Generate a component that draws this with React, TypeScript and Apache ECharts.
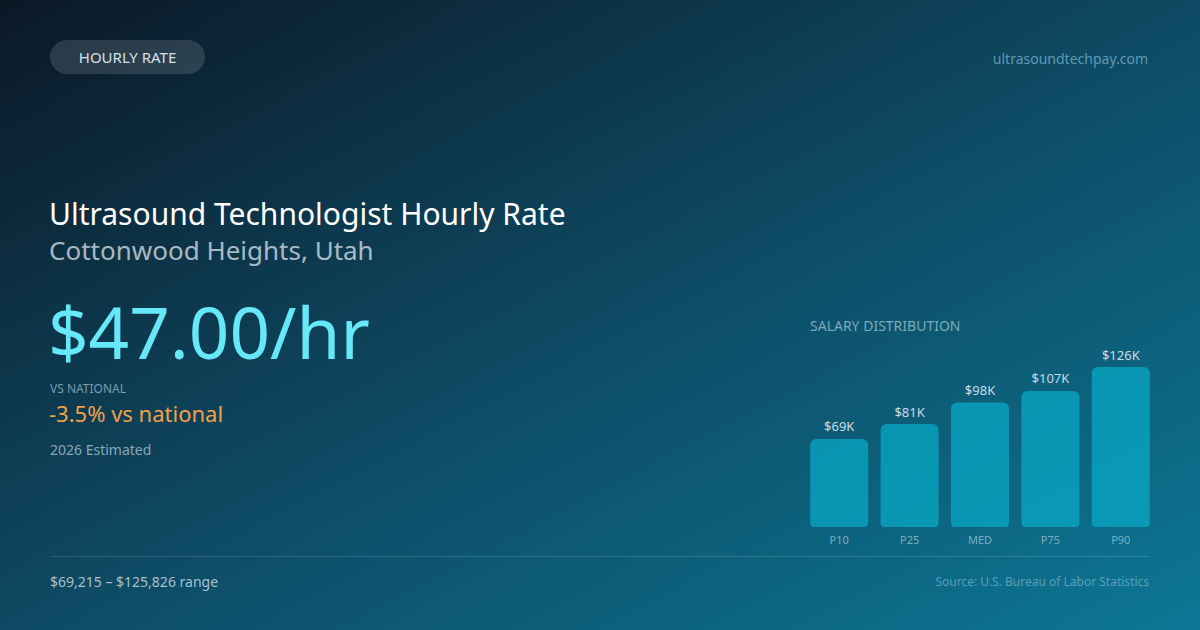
import React, { useEffect, useRef } from "react";
import * as echarts from "echarts";

const categories = ["P10", "P25", "MED", "P75", "P90"];
const salaries = [69215, 81000, 98000, 107000, 125826];
const rangeLow = 69215;
const rangeHigh = 125826;

const FONT = "'Noto Sans', 'Open Sans', sans-serif";

const fmtK = (v: number) => `$${Math.round(v / 1000)}K`;
const fmtFull = (v: number) => `$${v.toLocaleString("en-US")}`;

export default function App() {
  const ref = useRef<HTMLDivElement>(null);

  useEffect(() => {
    document.body.style.margin = "0";
    if (!ref.current) return;
    const chart = echarts.init(ref.current, undefined, { renderer: "svg" });

    chart.setOption({
      animation: false,
      backgroundColor: new echarts.graphic.LinearGradient(0, 0, 1, 1, [
        { offset: 0, color: "#0b1826" },
        { offset: 0.5, color: "#0e4a63" },
        { offset: 1, color: "#0c7795" },
      ]),
      textStyle: { fontFamily: FONT },
      grid: { left: 804, right: 44, top: 367, bottom: 103 },
      xAxis: {
        type: "category",
        data: categories,
        axisLine: { show: false },
        axisTick: { show: false },
        axisLabel: {
          color: "rgba(160,200,215,0.75)",
          fontSize: 11,
          fontFamily: FONT,
          margin: 7,
        },
      },
      yAxis: {
        type: "value",
        min: 0,
        max: "dataMax",
        show: false,
        splitLine: { show: false },
      },
      series: [
        {
          type: "bar",
          data: salaries,
          barWidth: 58,
          itemStyle: {
            color: "rgba(8,162,192,0.82)",
            borderRadius: [6, 6, 4, 4],
          },
          label: {
            show: true,
            position: "top",
            distance: 6,
            color: "#c9dbe4",
            fontSize: 13,
            fontFamily: FONT,
            formatter: (p: any) => fmtK(p.value),
          },
        },
      ],
      graphic: [
        {
          type: "rect",
          shape: { x: 50, y: 40, width: 155, height: 34, r: 17 },
          style: { fill: "rgba(255,255,255,0.13)" },
        },
        {
          type: "text",
          x: 127.5,
          y: 57,
          style: {
            text: "HOURLY RATE",
            fill: "#d5e0e8",
            font: `15px ${FONT}`,
            align: "center",
            verticalAlign: "middle",
          },
        },
        {
          type: "text",
          x: 1148,
          y: 58,
          style: {
            text: "ultrasoundtechpay.com",
            fill: "rgba(110,170,195,0.85)",
            font: `14px ${FONT}`,
            align: "right",
            verticalAlign: "middle",
          },
        },
        {
          type: "text",
          x: 49,
          y: 213,
          style: {
            text: "Ultrasound Technologist Hourly Rate",
            fill: "#ffffff",
            font: `30px ${FONT}`,
            lineHeight: 34,
            align: "left",
            verticalAlign: "middle",
          },
        },
        {
          type: "text",
          x: 49,
          y: 250,
          style: {
            text: "Cottonwood Heights, Utah",
            fill: "rgba(220,230,238,0.75)",
            font: `26px ${FONT}`,
            lineHeight: 30,
            align: "left",
            verticalAlign: "middle",
          },
        },
        {
          type: "text",
          x: 48,
          y: 331,
          style: {
            text: "$47.00/hr",
            fill: "#67e8f9",
            font: `71px ${FONT}`,
            lineHeight: 71,
            align: "left",
            verticalAlign: "middle",
          },
        },
        {
          type: "text",
          x: 50,
          y: 388,
          style: {
            text: "VS NATIONAL",
            fill: "rgba(160,190,205,0.75)",
            font: `12px ${FONT}`,
            align: "left",
            verticalAlign: "middle",
          },
        },
        {
          type: "text",
          x: 49,
          y: 413,
          style: {
            text: "-3.5% vs national",
            fill: "#f0a04b",
            font: `22px ${FONT}`,
            lineHeight: 24,
            align: "left",
            verticalAlign: "middle",
          },
        },
        {
          type: "text",
          x: 50,
          y: 449,
          style: {
            text: "2026 Estimated",
            fill: "rgba(170,195,210,0.8)",
            font: `14px ${FONT}`,
            align: "left",
            verticalAlign: "middle",
          },
        },
        {
          type: "text",
          x: 810,
          y: 325,
          style: {
            text: "SALARY DISTRIBUTION",
            fill: "rgba(160,200,215,0.75)",
            font: `14px ${FONT}`,
            align: "left",
            verticalAlign: "middle",
          },
        },
        {
          type: "line",
          shape: { x1: 50, y1: 556.5, x2: 1150, y2: 556.5 },
          style: { stroke: "rgba(255,255,255,0.13)", lineWidth: 1 },
        },
        {
          type: "text",
          x: 50,
          y: 581,
          style: {
            text: `${fmtFull(rangeLow)} – ${fmtFull(rangeHigh)} range`,
            fill: "rgba(200,215,225,0.85)",
            font: `14px ${FONT}`,
            align: "left",
            verticalAlign: "middle",
          },
        },
        {
          type: "text",
          x: 1149,
          y: 581,
          style: {
            text: "Source: U.S. Bureau of Labor Statistics",
            fill: "rgba(120,175,200,0.75)",
            font: `12px ${FONT}`,
            align: "right",
            verticalAlign: "middle",
          },
        },
      ],
    });

    return () => chart.dispose();
  }, []);

  return (
    <div
      ref={ref}
      style={{ position: "absolute", left: 0, top: 0, width: 1200, height: 630 }}
    />
  );
}
